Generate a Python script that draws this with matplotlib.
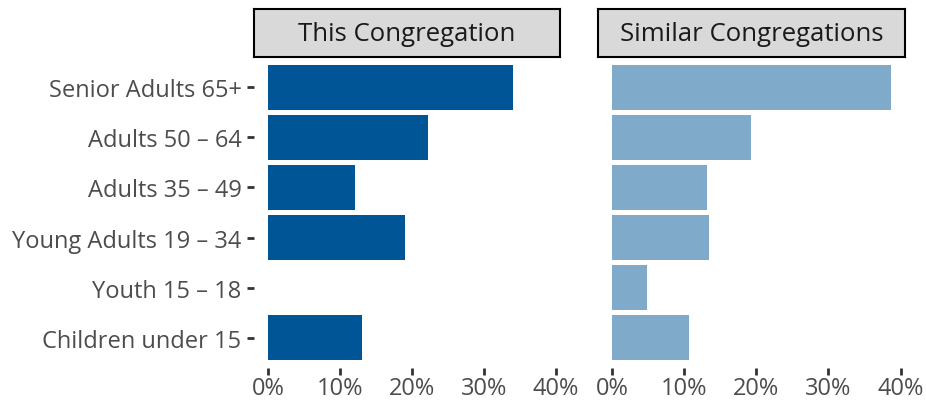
import matplotlib.pyplot as plt
from matplotlib.ticker import FuncFormatter

# age groups, top to bottom
groups = ['Senior Adults 65+', 'Adults 50 – 64', 'Adults 35 – 49',
          'Young Adults 19 – 34', 'Youth 15 – 18', 'Children under 15']
this_cong = [0.340, 0.222, 0.121, 0.191, 0.0, 0.131]
similar_cong = [0.387, 0.192, 0.132, 0.134, 0.048, 0.107]
panels = ['This Congregation', 'Similar Congregations']
colors = ['#005596', '#80AACA']
xticks = [0, 0.1, 0.2, 0.3, 0.4]

plt.rcParams['font.family'] = ['Open Sans', 'DejaVu Sans']
text_col = '#4D4D4D'

fig = plt.figure(figsize=(9.26, 4.02), dpi=100)

# panel positions in figure fractions (from the pixel layout)
panel_rects = [(0.2743, 0.0821, 0.3305, 0.7736), (0.6458, 0.0821, 0.3315, 0.7736)]
strip_h = 0.1194

ypos = list(range(len(groups)))
for i, (vals, title, col) in enumerate(zip([this_cong, similar_cong], panels, colors)):
    l, b, w, h = panel_rects[i]
    ax = fig.add_axes([l, b, w, h])
    ax.barh(ypos, vals, height=0.9, color=col)
    ax.set_ylim(len(groups) - 0.4, -0.6)
    ax.set_xlim(-0.0194, 0.406)
    ax.set_xticks(xticks)
    ax.xaxis.set_major_formatter(FuncFormatter(lambda v, p: f'{v*100:.0f}%'))
    ax.set_yticks(ypos)
    if i == 0:
        ax.set_yticklabels(groups)
        ax.tick_params(axis='y', length=5, width=2, color='#333333',
                       labelsize=17, labelcolor=text_col, pad=4)
    else:
        ax.tick_params(axis='y', left=False, labelleft=False)
    ax.tick_params(axis='x', length=5, width=2, color='#333333',
                   labelsize=17, labelcolor=text_col, pad=1)
    for s in ax.spines.values():
        s.set_visible(False)

    # facet strip
    sax = fig.add_axes([l, b + h, w, strip_h])
    sax.set_facecolor('#D9D9D9')
    sax.set_xticks([])
    sax.set_yticks([])
    for s in sax.spines.values():
        s.set_linewidth(1.5)
        s.set_color('black')
    sax.text(0.5, 0.5, title, ha='center', va='center', fontsize=18.5,
             color='#1A1A1A', transform=sax.transAxes)

fig.savefig('out.png', dpi=100)
